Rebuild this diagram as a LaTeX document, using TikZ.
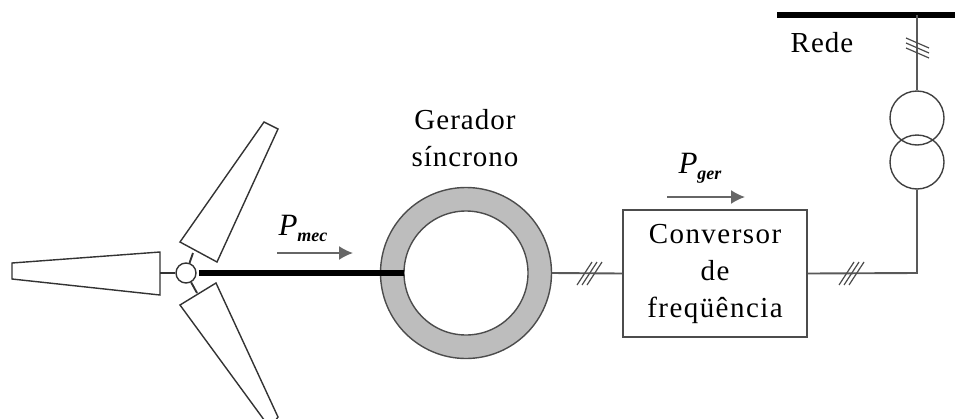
\documentclass[tikz,border=0pt]{standalone}
\usepackage{fontspec}
\setmainfont{Liberation Serif}
\newfontfamily\wideSerif[LetterSpace=5]{Liberation Serif}
\newfontfamily\midSerif[LetterSpace=3.5]{Liberation Serif}
\usetikzlibrary{arrows.meta}
\newcommand{\powerP}[1]{\textit{\fontsize{31}{31}\selectfont P\raisebox{-6pt}{\fontsize{18}{18}\selectfont\bfseries #1}}}
\newcommand{\ringY}{273}
\tikzstyle{plant}=[x=1pt, y=-1pt, line width=1.4pt, draw=black!75, font=\fontsize{29}{37}\selectfont]
\tikzstyle{blade}=[draw=black!80, fill=white, line join=miter]
\tikzstyle{hub}=[circle, inner sep=0pt, minimum size=20pt, draw=black!80, fill=white]
\tikzstyle{ringOuter}=[circle, inner sep=0pt, minimum size=171pt, draw=black!70, fill=black!26]
\tikzstyle{ringInner}=[circle, inner sep=0pt, minimum size=124pt, draw=black!70, fill=white]
\tikzstyle{conv}=[rectangle, inner sep=0pt, minimum width=184pt, minimum height=127pt, line width=1.8pt, draw=black!70, fill=white, align=center, font=\fontsize{29}{37}\wideSerif]
\tikzstyle{coil}=[circle, inner sep=0pt, minimum size=54pt, draw=black!75]
\tikzstyle{txt}=[inner sep=0pt, align=center, font=\fontsize{29}{37}\midSerif]
\tikzstyle{power}=[inner sep=0pt, font=\rmfamily]
\tikzstyle{wire}=[-, line width=1.9pt, draw=black!65]
\tikzstyle{shaft}=[-, line width=5.5pt, draw=black]
\tikzstyle{busbar}=[-, line width=6pt, draw=black]
\tikzstyle{tick}=[-, line width=1.2pt, draw=black!70]
\tikzstyle{flow}=[-{Latex[length=14pt,width=14pt]}, line width=1.7pt, draw=black!60]

\begin{document}
\begin{tikzpicture}[plant]
	\useasboundingbox (0,0) rectangle (955,418);
	\clip (0,0) rectangle (955,418);

	%The rotor
	\draw[blade] (12,263) -- (160,252) -- (160,295) -- (12,279) -- cycle;
	\draw[blade] (264,122) -- (278,129) -- (217,262) -- (180,242) -- cycle;
	\draw[blade] (180,305) -- (216,283) -- (278,417) -- (270,428) -- cycle;
	\coordinate (bladeL) at (160,\ringY);
	\coordinate (bladeU) at (193,253);
	\coordinate (bladeD) at (197,293);
	\draw (186,\ringY) node[hub] (hub) {};
	\draw[wire, draw=black!80] (bladeL) -- (hub);
	\draw[wire, draw=black!80] (bladeU) -- (hub);
	\draw[wire, draw=black!80] (bladeD) -- (hub);

	%The generator
	\draw (466,\ringY) node[ringOuter] (ring) {};
	\draw (466,\ringY) node[ringInner] (gap) {};
	\coordinate (shaftL) at (199,\ringY);
	\coordinate (shaftR) at (404,\ringY);
	\draw[shaft] (shaftL) -- (shaftR);
	\node[txt] (gerador) at (465,138) {Gerador\\síncrono};

	\node[power] (pmec) at (303,228) {\powerP{mec}};
	\coordinate (pmecA) at (277,253);
	\coordinate (pmecB) at (353,253);
	\draw[flow] (pmecA) -- (pmecB);

	%The converter
	\draw (715,273.5) node[conv] (conv) {Conversor\\de\\freqüência};
	\node[power] (pger) at (700,168) {\powerP{ger}};
	\coordinate (pgerA) at (667,197);
	\coordinate (pgerB) at (745,197);
	\draw[flow] (pgerA) -- (pgerB);

	%The grid side
	\draw (917,118) node[coil] (up) {};
	\draw (917,162) node[coil] (down) {};
	\coordinate (corner) at (917,\ringY);
	\coordinate (busL) at (777,15);
	\coordinate (busR) at (955,15);
	\coordinate (busT) at (917,15);
	\draw[busbar] (busL) -- (busR);
	\node[txt] (rede) at (822,43) {Rede};
	\draw[wire] (ring.east) -- (conv.west);
	\draw[wire] (conv.east) -- (corner) -- (down.south);
	\draw[wire] (busT) -- (up.north);

	%The three phase marks
	\foreach \dx in {-5,0,5} {
		\draw[tick] (582+\dx,285) -- (597+\dx,262);
		\draw[tick] (844+\dx,285) -- (859+\dx,262);
		\draw[tick] (906,43+\dx) -- (929,53+\dx);
	}
\end{tikzpicture}
\end{document}
